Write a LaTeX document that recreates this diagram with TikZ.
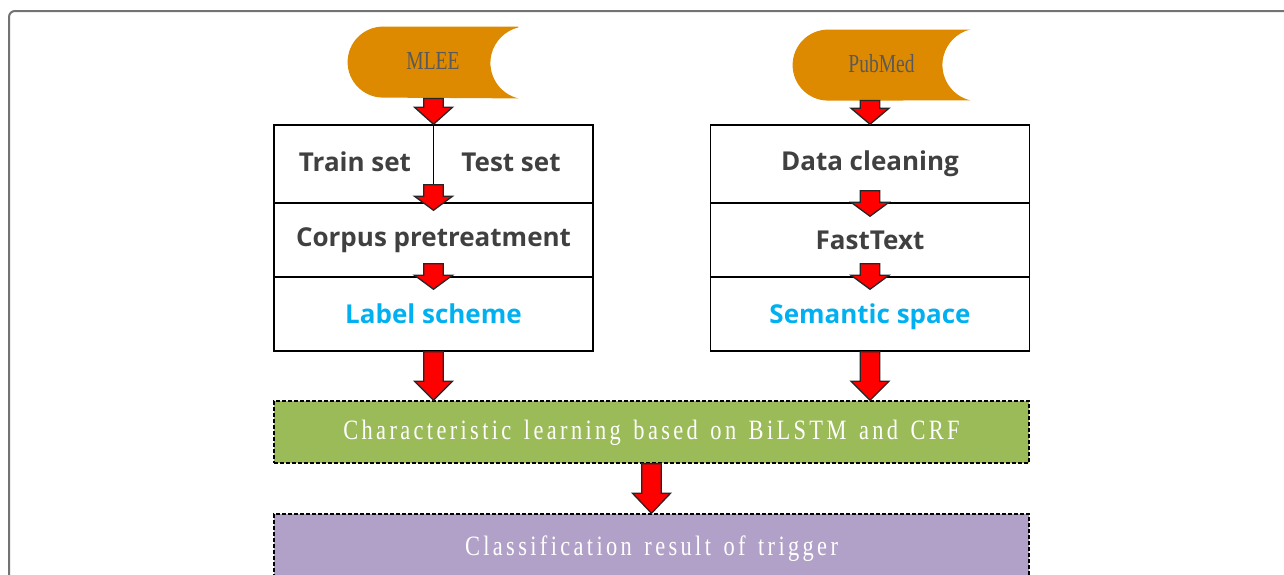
\documentclass[tikz,border=0pt]{standalone}
\usepackage{fontspec}
\setsansfont{Open Sans}
\newfontfamily\songti[FakeStretch=0.8, LetterSpace=12, WordSpace=1.4]{Liberation Serif}
\newfontfamily\songsrc[FakeStretch=0.75]{Liberation Serif}
\usetikzlibrary{calc,backgrounds}
\definecolor{srcorange}{RGB}{221,138,0}
\definecolor{featgreen}{RGB}{155,187,89}
\definecolor{respurple}{RGB}{177,160,199}
\definecolor{labelblue}{RGB}{0,176,240}
\definecolor{textgray}{RGB}{64,64,64}
\newcommand{\emphcolor}{labelblue}
\tikzstyle{row}=[draw, line width=.75pt, minimum width=159.5pt, minimum height=37pt, inner sep=0, font=\sffamily\bfseries\fontsize{13}{15}\selectfont, text=textgray]
\tikzstyle{rowtext}=[inner sep=0, font=\sffamily\bfseries\fontsize{13}{15}\selectfont, text=textgray]
\tikzstyle{source}=[minimum height=35.5pt, inner sep=0, font=\songsrc\fontsize{13}{15}\selectfont, text=black!65, text depth=2pt]
\tikzstyle{stage}=[draw, dashed, dash pattern=on 2pt off 1pt, line width=.75pt, minimum width=377.5pt, minimum height=31pt, inner sep=0, font=\songti\fontsize{14}{16}\selectfont, text=white, text depth=2pt]
\tikzstyle{redarrow}=[fill=red, draw=black!85, line width=.65pt, line join=miter]
\tikzstyle{frame}=[draw=black!55, line width=1pt, rounded corners=3pt]
\newcommand{\redarrow}[3][7pt]{%
  \draw[redarrow] let \p1=(#2), \p2=(#3) in
    (\x2-4.9pt,\y1) -- (\x2-4.9pt,\y2+#1) -- (\x2-9.5pt,\y2+#1) -- (\x2,\y2)
    -- (\x2+9.5pt,\y2+#1) -- (\x2+4.9pt,\y2+#1) -- (\x2+4.9pt,\y1) -- cycle;}
\newcommand{\srcshape}[1]{%
  \fill[srcorange] (#1.north east) -- ($(#1.north west)+(35.5,0)$)
    arc[start angle=90, end angle=270, radius=17.75pt] -- (#1.south east)
    arc[start angle=256.5, end angle=103.5, radius=18.25pt] -- cycle;}

\begin{document}
\begin{tikzpicture}[x=.5pt, y=-.5pt]
    \path[use as bounding box, clip] (0,0) rectangle (1284,574);
    \draw[frame] (9,600) -- (9,11) -- (1300,11);
    \node[source, minimum width=85pt] (mlee) at (433,62.5) {MLEE};
    \node[source, minimum width=88.5pt, minimum height=35pt] (pubmed) at (881.5,65) {PubMed};
    \begin{scope}[on background layer]
        \srcshape{mlee}
        \srcshape{pubmed}
    \end{scope}
    \node[row, minimum height=39pt] (split) at (433.5,164) {};
    \node[rowtext] (train) at (355,162) {Train set};
    \node[rowtext] (test) at (511,162) {Test set};
    \node[row] (corpus) at (433.5,240) {Corpus pretreatment};
    \node[row, text=\emphcolor] (label) at (433.5,314) {Label scheme};
    \node[row, minimum height=39pt] (clean) at (870,164) {Data cleaning};
    \node[row] (fasttext) at (870,240) {FastText};
    \node[row, text=\emphcolor, text depth=0pt] (semantic) at (870,314) {Semantic space};
    \node[stage, fill=featgreen] (feature) at (651.5,432) {Characteristic learning based on BiLSTM and CRF};
    \node[stage, fill=respurple, minimum height=34pt] (result) at (651.5,548) {Classification result of trigger};
    \draw[line width=.75pt] (split.north) -- ($(split.south)+(0,-19)$);
    \redarrow[8.5pt]{mlee.south}{split.north}
    \redarrow[8pt]{pubmed.south}{clean.north}
    \redarrow{$(split.south)+(0,-19)$}{$(corpus.north)+(0,8)$}
    \redarrow{$(corpus.south)+(0,-14)$}{$(label.north)+(0,13)$}
    \redarrow{$(clean.south)+(0,-13)$}{$(fasttext.north)+(0,14)$}
    \redarrow{$(fasttext.south)+(0,-14)$}{$(semantic.north)+(0,13)$}
    \redarrow[9.5pt]{label.south}{label.south |- feature.north}
    \redarrow[9.5pt]{semantic.south}{semantic.south |- feature.north}
    \redarrow[10pt]{feature.south}{result.north}
\end{tikzpicture}
\end{document}
